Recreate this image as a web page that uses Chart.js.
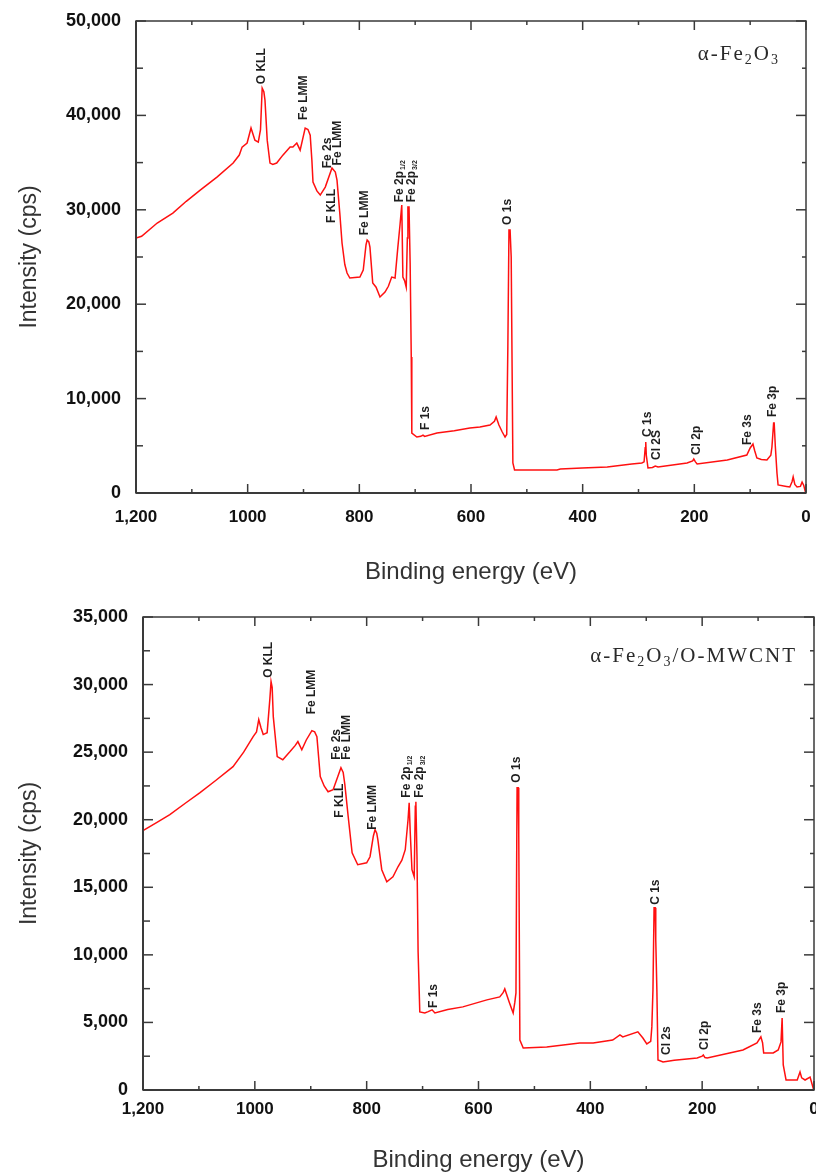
<!DOCTYPE html>
<html>
<head>
<meta charset="utf-8">
<script src="https://cdn.jsdelivr.net/npm/chart.js@4.4.0/dist/chart.umd.min.js"></script>
<style>
  html, body { margin: 0; padding: 0; background: #fff; }
  .box { position: absolute; left: 0; width: 816px; }
  #top { top: 0; height: 592px; }
  #bottom { top: 592px; height: 584px; }
</style>
</head>
<body>
<div class="box" id="top"><canvas id="chart1"></canvas></div>
<div class="box" id="bottom"><canvas id="chart2"></canvas></div>
<script>
// tick labels (the original mixes "1,200" and "1000")
const xTickValues = [0, 200, 400, 600, 800, 1000, 1200]
const xTickText = ['0', '200', '400', '600', '800', '1000', '1,200']

// alpha-Fe2O3 survey spectrum
const energy1 = [1200, 1190, 1162, 1134, 1110, 1085, 1055, 1026, 1015, 1010, 1001, 994, 987, 981, 977, 974, 971, 969, 965, 960,
  955, 948, 937, 924, 919, 912, 906, 897, 892, 888, 885, 883, 876, 870, 861, 849, 843, 840, 835, 831,
  826, 822, 817, 799, 793, 788, 786, 783, 781, 776, 770, 763, 754, 748, 742, 736, 731, 727, 724, 722,
  719, 716, 714, 713, 711, 709, 707, 706, 697, 690, 686, 683, 661, 630, 602, 584, 566, 558, 555, 550,
  544, 539, 536, 534, 532, 530, 528, 527, 525, 522, 446, 440, 401, 356, 312, 294, 290, 288, 287, 286,
  283, 275, 270, 265, 213, 203, 201, 198, 195, 141, 106, 100, 95, 92, 88, 80, 70, 63, 61, 58,
  57, 55, 52, 50, 35, 29, 25, 23, 20, 16, 10, 7, 4, 1]
const counts1 = [27000, 27200, 28600, 29650, 30900, 32090, 33460, 34950, 35800, 36640, 37070, 38660, 37380, 37170, 38500, 42890, 42500, 41620, 37380, 34950,
  34800, 34950, 35790, 36640, 36640, 37070, 36320, 38660, 38500, 37910, 35260, 32930, 32000, 31560, 32410, 34420, 34000, 33150, 29650, 26480,
  24200, 23300, 22770, 22870, 23620, 26300, 26790, 26600, 26050, 22240, 21800, 20760, 21290, 21900, 22870, 22770, 26050, 28500, 30500, 22870,
  22500, 21800, 27000, 30290, 30290, 24360, 14400, 6350, 5930, 6000, 6140, 6000, 6350, 6600, 6880, 6990, 7200, 7600, 8050, 7200,
  6460, 5930, 6200, 15460, 27850, 27850, 25000, 25000, 3180, 2440, 2440, 2540, 2650, 2750, 3070, 3180, 3300, 4800, 5400, 4000,
  2650, 2700, 2860, 2750, 3180, 3400, 3600, 3300, 3070, 3500, 4020, 4770, 5190, 4500, 3710, 3550, 3500, 4000, 4870, 7410,
  7410, 5000, 2120, 850, 700, 640, 1200, 1700, 900, 640, 700, 1160, 800, 100]

// alpha-Fe2O3/O-MWCNT survey spectrum
const energy2 = [1200, 1175, 1152, 1125, 1098, 1070, 1039, 1020, 1003, 997, 993, 989, 985, 978, 973, 971, 969, 967, 960, 950,
  937, 928, 923, 916, 908, 898, 893, 889, 883, 876, 869, 860, 846, 842, 839, 833, 826, 816, 800, 794,
  788, 785, 782, 780, 773, 764, 753, 744, 737, 731, 726, 724, 722, 719, 715, 713, 712, 710, 708, 705,
  696, 690, 683, 678, 655, 628, 585, 562, 556, 553, 545, 538, 535, 533, 532, 531, 529, 528, 526, 520,
  478, 419, 395, 360, 347, 342, 315, 306, 299, 292, 290, 288, 286, 284, 283, 281, 279, 270, 250, 209,
  200, 198, 195, 191, 127, 102, 95, 92, 90, 73, 64, 59, 57, 56, 55, 50, 30, 25, 22, 16,
  7, 1]
const counts2 = [19200, 19800, 20370, 21200, 22000, 22900, 23930, 25000, 26150, 26500, 27400, 26800, 26300, 26440, 29000, 30220, 29800, 27630, 24670, 24440,
  25040, 25480, 25780, 25180, 25900, 26590, 26500, 26150, 23190, 22500, 22070, 22220, 23850, 23500, 22590, 20220, 17550, 16670, 16810, 17260,
  18800, 19260, 19000, 18520, 16300, 15410, 15780, 16520, 17000, 17780, 20000, 21260, 19000, 16300, 15780, 21000, 21330, 17260, 10220, 5780,
  5700, 5800, 5930, 5700, 5950, 6150, 6670, 6890, 7200, 7480, 6500, 5700, 6500, 7190, 15000, 22370, 22370, 18890, 3700, 3110,
  3180, 3480, 3480, 3700, 4070, 3930, 4300, 3850, 3410, 3600, 4670, 7410, 13480, 13480, 11110, 7410, 2220, 2070, 2200, 2370,
  2500, 2590, 2400, 2370, 2960, 3480, 3930, 3500, 2740, 2740, 2960, 3560, 5330, 5330, 1850, 740, 740, 1330, 900, 740,
  960, 70]

// peak labels: energy, intensity where the label starts, text ("_" starts a subscript)
const peaks1 = [
  [974, 43300, 'O KLL'], [899, 39500, 'Fe LMM'], [856, 34400, 'Fe 2s'], [838, 34700, 'Fe LMM'],
  [849, 28600, 'F KLL'], [790, 27300, 'Fe LMM'], [727, 30800, 'Fe 2p_1/2'], [706, 30800, 'Fe 2p_3/2'],
  [534, 28400, 'O 1s'], [682, 6670, 'F 1s'], [283, 5930, 'C 1s'], [267, 3500, 'Cl 2S'],
  [195, 4020, 'Cl 2p'], [104, 5080, 'Fe 3s'], [59, 8050, 'Fe 3p']
]
const peaks2 = [
  [976, 30500, 'O KLL'], [898, 27800, 'Fe LMM'], [853, 24440, 'Fe 2s'], [835, 24440, 'Fe LMM'],
  [848, 20150, 'F KLL'], [789, 19260, 'Fe LMM'], [728, 21630, 'Fe 2p_1/2'], [705, 21630, 'Fe 2p_3/2'],
  [531, 22740, 'O 1s'], [681, 6070, 'F 1s'], [284, 13700, 'C 1s'], [263, 2590, 'Cl 2s'],
  [195, 2960, 'Cl 2p'], [100, 4220, 'Fe 3s'], [57, 5700, 'Fe 3p']
]

const sample1 = 'α-Fe_2O_3'
const sample2 = 'α-Fe_2O_3/O-MWCNT'

const sans = "'Liberation Sans', Arial, sans-serif"
const serif = "'Liberation Serif', 'Times New Roman', serif"

function line(ctx, x1, y1, x2, y2) {
    ctx.beginPath()
    ctx.moveTo(x1, y1)
    ctx.lineTo(x2, y2)
    ctx.stroke()
}

// sample name with subscripts, right aligned
function drawSample(ctx, text, right, baseline) {
    const parts = []
    for (let i = 0; i < text.length; i++) {
        if (text[i] === '_') { parts.push([text[i + 1], true]); i++ }
        else parts.push([text[i], false])
    }
    ctx.letterSpacing = '2px'
    const big = '21px ' + serif, small = '14px ' + serif
    let w = 0
    parts.forEach(p => { ctx.font = p[1] ? small : big; w += ctx.measureText(p[0]).width })
    let x = right - w
    ctx.textAlign = 'left'
    ctx.textBaseline = 'alphabetic'
    ctx.fillStyle = '#2a2a2a'
    parts.forEach(p => {
        ctx.font = p[1] ? small : big
        ctx.fillText(p[0], x, baseline + (p[1] ? 4 : 0))
        x += ctx.measureText(p[0]).width
    })
    ctx.letterSpacing = '0px'
}

const framePlugin = {
    id: 'frame',
    afterDraw(chart, args, opts) {
        const {ctx, chartArea: a, scales: {x, y}} = chart
        ctx.save()
        ctx.strokeStyle = '#3a3a3a'
        ctx.lineWidth = 1.5
        ctx.strokeRect(a.left, a.top, a.right - a.left, a.bottom - a.top)
        ctx.lineWidth = 2
        line(ctx, a.left, a.bottom, a.right, a.bottom)
        line(ctx, a.left, a.top, a.left, a.bottom)
        ctx.lineWidth = 1.5
        for (let e = 0; e <= 1200; e += 100) {
            const px = x.getPixelForValue(e)
            const len = e % 200 === 0 ? 9 : 4
            line(ctx, px, a.bottom, px, a.bottom - len)
            line(ctx, px, a.top, px, a.top + len)
        }
        for (let v = 0; v <= y.max; v += opts.yMinor) {
            const py = y.getPixelForValue(v)
            const major = Math.round(v / opts.yMinor) % 2 === 0
            line(ctx, a.left, py, a.left + (major ? 10 : 7), py)
            line(ctx, a.right, py, a.right - (major ? 10 : 4), py)
        }

        // rotated peak labels
        ctx.fillStyle = '#1e1e1e'
        ctx.textAlign = 'left'
        ctx.textBaseline = 'middle'
        opts.peaks.forEach(([e, v, text]) => {
            const [main, sub] = text.split('_')
            ctx.save()
            ctx.translate(x.getPixelForValue(e), y.getPixelForValue(v))
            ctx.rotate(-Math.PI / 2)
            ctx.font = 'bold 12px ' + sans
            ctx.fillText(main, 0, 0)
            if (sub) {
                const w = ctx.measureText(main).width
                ctx.font = 'bold 7px ' + sans
                ctx.fillText(sub, w + 1, 3)
            }
            ctx.restore()
        })

        drawSample(ctx, opts.sample, opts.sampleRight, opts.sampleBaseline)
        ctx.restore()
    }
}

function createChart(id, energies, counts, yMax, yStep, peaks, sample, box) {
    const points = energies.map((e, i) => ({x: e, y: counts[i]}))
    const config = {
        type: 'scatter',
        data: {
            datasets: [{
                data: points,
                showLine: true,
                borderColor: '#ff1010',
                borderWidth: 1.5,
                pointRadius: 0,
                tension: 0
            }]
        },
        options: {
            responsive: true,
            maintainAspectRatio: false,
            animation: false,
            layout: {
                padding: {top: box.top, right: box.right, left: 0, bottom: 0}
            },
            plugins: {
                legend: {display: false},
                tooltip: {enabled: false},
                frame: {
                    yMinor: yStep / 2,
                    peaks: peaks,
                    sample: sample,
                    sampleRight: box.sampleRight,
                    sampleBaseline: box.sampleBaseline
                }
            },
            scales: {
                x: {
                    type: 'linear',
                    reverse: true,
                    min: 0,
                    max: 1200,
                    grid: {display: false, drawTicks: false},
                    border: {display: false},
                    afterBuildTicks: scale => { scale.ticks = xTickValues.map(v => ({value: v})) },
                    ticks: {
                        maxRotation: 0,
                        autoSkip: false,
                        padding: box.tickPad,
                        color: '#111',
                        font: {family: sans, size: 17, weight: 'bold'},
                        callback: v => xTickText[xTickValues.indexOf(v)]
                    },
                    title: {
                        display: true,
                        text: 'Binding energy (eV)',
                        color: '#333',
                        font: {family: sans, size: 24},
                        padding: {top: 0, bottom: box.titleBottom}
                    },
                    afterFit: scale => {
                        scale.height = box.xHeight
                        scale.paddingLeft = 0
                        scale.paddingRight = 0
                    }
                },
                y: {
                    min: 0,
                    max: yMax,
                    grid: {display: false, drawTicks: false},
                    border: {display: false},
                    ticks: {
                        stepSize: yStep,
                        padding: 15,
                        color: '#111',
                        font: {family: sans, size: 18, weight: 'bold'},
                        callback: v => v.toLocaleString('en-US')
                    },
                    title: {
                        display: true,
                        text: 'Intensity (cps)',
                        color: '#333',
                        font: {family: sans, size: 23},
                        padding: {top: 16, bottom: 0}
                    },
                    afterFit: scale => {
                        scale.width = box.yWidth
                        scale.paddingTop = 0
                        scale.paddingBottom = 0
                    }
                }
            }
        },
        plugins: [framePlugin]
    }
    return new Chart(document.getElementById(id), config)
}

createChart('chart1', energy1, counts1, 50000, 10000, peaks1, sample1,
    {top: 21, right: 10, yWidth: 136, xHeight: 99, titleBottom: 5, tickPad: 14, sampleRight: 780, sampleBaseline: 60})
createChart('chart2', energy2, counts2, 35000, 5000, peaks2, sample2,
    {top: 25, right: 2, yWidth: 143, xHeight: 86, titleBottom: 1, tickPad: 9, sampleRight: 797, sampleBaseline: 70})
</script>
</body>
</html>
